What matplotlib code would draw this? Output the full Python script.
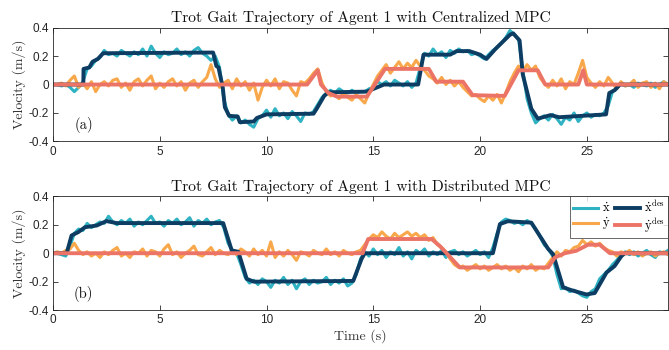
import numpy as np
import matplotlib
matplotlib.use("Agg")
import matplotlib.pyplot as plt

plt.rcParams['mathtext.fontset'] = 'cm'

# ---------------- data ----------------
t_step = 0.2
t_end = 28.8

# Centralized MPC (a)
xa_act = [0.00, 0.00, -0.01, 0.00, -0.02, -0.05, -0.02, 0.02, 0.11, 0.13,
          0.17, 0.19, 0.24, 0.21, 0.22, 0.20, 0.24, 0.22, 0.20, 0.23,
          0.21, 0.25, 0.20, 0.27, 0.22, 0.19, 0.23, 0.21, 0.22, 0.25,
          0.21, 0.23, 0.20, 0.24, 0.26, 0.22, 0.20, 0.17, 0.20, 0.12,
          -0.10, -0.21, -0.25, -0.22, -0.27, -0.25, -0.28, -0.30, -0.24, -0.22,
          -0.18, -0.23, -0.17, -0.22, -0.20, -0.24, -0.19, -0.22, -0.26, -0.20,
          -0.21, -0.19, -0.14, -0.09, -0.06, -0.04, -0.06, -0.03, -0.05, -0.06,
          -0.04, -0.06, -0.05, -0.05, -0.03, -0.02, 0.02, 0.00, 0.02, -0.01,
          0.03, 0.01, -0.01, 0.02, -0.02, 0.01, 0.12, 0.22, 0.20, 0.25,
          0.21, 0.23, 0.19, 0.24, 0.22, 0.25, 0.23, 0.24, 0.21, 0.22,
          0.20, 0.18, 0.21, 0.24, 0.26, 0.29, 0.33, 0.38, 0.35, 0.32,
          0.10, -0.10, -0.20, -0.27, -0.24, -0.22, -0.25, -0.21, -0.24, -0.28,
          -0.23, -0.25, -0.20, -0.26, -0.22, -0.20, -0.23, -0.21, -0.22, -0.20,
          -0.15, -0.05, -0.03, 0.01, -0.01, 0.00, -0.02, 0.01, 0.00, -0.01,
          0.01, -0.02, 0.00, 0.02, 0.00]
ya_act = [0.00, 0.00, 0.01, -0.01, 0.03, 0.06, -0.02, 0.01, -0.03, 0.02,
          -0.05, 0.00, 0.02, -0.01, 0.03, 0.04, -0.02, 0.01, -0.04, 0.02,
          0.04, -0.01, 0.03, 0.06, -0.03, 0.01, -0.02, 0.02, 0.04, -0.01,
          0.02, -0.04, 0.01, 0.03, -0.02, 0.02, 0.05, 0.14, 0.04, -0.02,
          0.01, 0.03, -0.03, 0.04, -0.01, 0.02, -0.04, 0.01, -0.11, -0.02,
          0.03, -0.01, 0.04, -0.03, 0.02, 0.01, -0.04, -0.08, 0.02, 0.01,
          0.04, 0.08, 0.11, 0.01, -0.05, -0.08, -0.07, -0.10, -0.06, -0.09,
          -0.11, -0.07, -0.10, -0.13, -0.06, 0.00, 0.06, 0.10, 0.14, 0.08,
          0.12, 0.16, 0.11, 0.15, 0.12, 0.17, 0.13, 0.10, 0.06, 0.04,
          0.01, 0.05, 0.00, 0.03, -0.01, 0.02, -0.02, -0.05, -0.08, -0.07,
          -0.10, -0.12, -0.08, -0.11, -0.07, -0.13, -0.06, 0.02, 0.08, 0.13,
          0.09, 0.14, 0.10, 0.13, 0.05, 0.01, -0.02, 0.03, -0.01, 0.04,
          -0.03, 0.02, 0.00, 0.08, 0.17, 0.05, 0.01, -0.02, 0.02, -0.01,
          0.05, 0.01, -0.03, 0.02, -0.01, 0.00, 0.03, -0.02, 0.01, 0.02,
          -0.02, 0.01, -0.03, 0.02, 0.00]
xa_des_t = [0, 1.42, 1.43, 1.7, 1.85, 2.1, 2.35, 7.5, 7.65, 7.75, 7.95, 8.05, 8.25,
            8.65, 8.75, 9.4, 9.55, 10.0, 12.2, 12.35, 12.7, 12.9, 14.7, 15.5, 17.1,
            17.35, 18.6, 18.9, 19.5, 20.0, 20.3, 20.75, 21.4, 21.55, 21.85, 22.0,
            22.4, 22.7, 23.3, 23.7, 25.9, 26.05, 26.3, 26.55, 28.8]
xa_des_v = [0, 0, 0.11, 0.12, 0.16, 0.18, 0.22, 0.225, 0.13, 0.12, -0.02, -0.16, -0.22,
            -0.225, -0.265, -0.26, -0.235, -0.21, -0.205, -0.17, -0.08, -0.055, -0.05, 0.0, 0.0,
            0.21, 0.21, 0.235, 0.235, 0.21, 0.18, 0.255, 0.35, 0.36, 0.31, 0.07,
            -0.17, -0.24, -0.215, -0.23, -0.21, -0.06, -0.04, 0.0, 0.0]
ya_des_t = [0, 11.9, 12.4, 12.55, 12.9, 13.3, 14.7, 15.55, 17.6, 17.95, 19.2, 19.65,
            21.15, 21.8, 22.7, 23.05, 24.6, 24.83, 25.0, 28.8]
ya_des_v = [0, 0, 0.10, 0.0, -0.06, -0.085, -0.085, 0.11, 0.11, 0.02, 0.02, -0.075,
            -0.08, 0.10, 0.10, 0.0, 0.0, 0.10, 0.0, 0.0]

# Distributed MPC (b)
xb_act = [0.00, 0.00, -0.01, -0.02, 0.05, 0.14, 0.17, 0.16, 0.21, 0.18,
          0.20, 0.22, 0.21, 0.26, 0.22, 0.20, 0.23, 0.21, 0.24, 0.19,
          0.22, 0.20, 0.23, 0.26, 0.21, 0.22, 0.19, 0.23, 0.21, 0.24,
          0.20, 0.22, 0.25, 0.19, 0.23, 0.21, 0.24, 0.20, 0.22, 0.23,
          0.18, 0.07, 0.02, 0.00, -0.08, -0.17, -0.21, -0.19, -0.22, -0.18,
          -0.20, -0.24, -0.19, -0.21, -0.17, -0.22, -0.19, -0.25, -0.20, -0.18,
          -0.22, -0.19, -0.21, -0.20, -0.17, -0.22, -0.19, -0.21, -0.18, -0.23,
          -0.21, -0.15, -0.04, 0.01, -0.02, 0.03, -0.01, 0.02, -0.03, 0.01,
          -0.01, 0.04, -0.02, 0.01, -0.04, 0.02, 0.00, 0.03, -0.02, 0.01,
          -0.01, 0.02, -0.03, 0.01, 0.02, -0.01, 0.01, -0.02, 0.00, 0.02,
          -0.01, 0.01, -0.03, 0.04, 0.14, 0.22, 0.24, 0.23, 0.21, 0.22,
          0.20, 0.23, 0.21, 0.17, 0.12, 0.06, 0.03, -0.02, -0.15, -0.25,
          -0.24, -0.27, -0.26, -0.28, -0.30, -0.31, -0.27, -0.25, -0.18, -0.15,
          -0.12, -0.08, -0.05, -0.01, 0.01, -0.01, 0.01, -0.02, 0.00, 0.02,
          -0.01, -0.03, 0.01, 0.00, 0.02]
yb_act = [0.00, 0.01, 0.00, 0.02, 0.03, 0.07, 0.02, -0.01, 0.01, -0.02,
          0.00, -0.03, 0.01, -0.01, 0.02, 0.04, -0.02, 0.00, -0.03, 0.01,
          0.00, 0.03, -0.02, 0.02, 0.01, -0.02, 0.03, 0.06, -0.01, 0.01,
          -0.03, 0.00, 0.02, 0.05, -0.01, -0.02, 0.01, 0.04, -0.01, 0.02,
          0.00, -0.01, 0.02, -0.01, 0.03, 0.01, -0.02, 0.03, -0.01, 0.02,
          -0.02, 0.08, -0.03, 0.01, -0.02, 0.02, -0.01, -0.05, 0.01, 0.00,
          -0.02, 0.02, 0.00, -0.01, 0.03, -0.01, 0.01, -0.02, 0.02, 0.00,
          -0.01, 0.01, 0.02, 0.06, 0.10, 0.13, 0.11, 0.15, 0.12, 0.10,
          0.14, 0.11, 0.13, 0.15, 0.12, 0.14, 0.11, 0.13, 0.09, 0.11,
          0.06, 0.04, 0.01, -0.04, -0.08, -0.10, -0.09, -0.12, -0.10, -0.08,
          -0.11, -0.09, -0.12, -0.10, -0.08, -0.11, -0.09, -0.12, -0.10, -0.13,
          -0.09, -0.11, -0.08, -0.12, -0.10, -0.11, -0.07, -0.03, 0.01, -0.02,
          0.02, 0.01, 0.04, 0.05, 0.09, 0.06, 0.08, 0.05, 0.07, 0.04,
          0.02, 0.01, -0.02, 0.01, 0.00, 0.02, -0.01, 0.01, -0.02, 0.00,
          0.01, -0.02, 0.00, 0.01, -0.01]
xb_des_t = [0, 0.64, 0.87, 1.18, 1.5, 2.05, 2.5, 2.98, 7.97, 8.37, 8.68, 9.07, 9.4,
            14.06, 14.45, 14.6, 20.6, 20.93, 21.3, 22.4, 23.19, 23.42, 23.89, 24.28,
            24.98, 25.37, 25.92, 26.3, 26.62, 26.78, 28.8]
xb_des_v = [0, 0, 0.125, 0.148, 0.183, 0.195, 0.226, 0.212, 0.212, 0.02, 0.01, -0.18, -0.2,
            -0.195, -0.04, 0, 0, 0.205, 0.225, 0.215, 0.03, -0.007, -0.24, -0.26,
            -0.29, -0.28, -0.136, -0.09, -0.02, 0, 0]
yb_des_t = [0, 14.5, 14.76, 17.73, 18.12, 19.05, 23.19, 23.5, 23.97, 24.5, 25.06,
            25.6, 26.08, 28.8]
yb_des_v = [0, 0, 0.1, 0.1, 0.05, -0.1, -0.1, -0.03, 0, 0.017, 0.06, 0.06, 0, 0]

titles = ['Trot Gait Trajectory of Agent 1 with Centralized MPC',
          'Trot Gait Trajectory of Agent 1 with Distributed MPC']
panel_tags = ['(a)', '(b)']
xticks = [0, 5, 10, 15, 20, 25]
yticks = [-0.4, -0.2, 0, 0.2, 0.4]
ytick_labels = ['-0.4', '-0.2', '0', '0.2', '0.4']
legend_labels = [r'$\dot{\mathrm{x}}$', r'$\dot{\mathrm{y}}$',
                 r'$\dot{\mathrm{x}}^{\mathrm{des}}$', r'$\dot{\mathrm{y}}^{\mathrm{des}}$']

# ---------------- style ----------------
c_x = '#2fb3c3'
c_xd = '#0d3d62'
c_y = '#f8a84a'
c_yd = '#ec7466'
serif = 'cmr10'
tick_font = 'Liberation Sans'

fig = plt.figure(figsize=(6.69, 3.5), dpi=100)
ax_a = fig.add_axes([0.0792, 0.596, 0.9193, 0.325])
ax_b = fig.add_axes([0.0792, 0.114, 0.9193, 0.325])

series = [
    (xa_act, ya_act, xa_des_t, xa_des_v, ya_des_t, ya_des_v),
    (xb_act, yb_act, xb_des_t, xb_des_v, yb_des_t, yb_des_v),
]

for k, (ax, s) in enumerate(zip([ax_a, ax_b], series)):
    xact, yact, xdt, xdv, ydt, ydv = s
    t = np.arange(len(xact)) * t_step
    l1, = ax.plot(t, xact, color=c_x, lw=2.2, solid_joinstyle='round')
    l2, = ax.plot(t, yact, color=c_y, lw=2.2, solid_joinstyle='round')
    l3, = ax.plot(xdt, xdv, color=c_xd, lw=2.8, solid_joinstyle='round')
    l4, = ax.plot(ydt, ydv, color=c_yd, lw=2.8, solid_joinstyle='round')
    ax.set_xlim(0, t_end)
    ax.set_ylim(-0.4, 0.4)
    ax.set_xticks(xticks)
    ax.set_xticklabels([str(v) for v in xticks], fontfamily=tick_font, fontsize=8.5, color='#262626')
    ax.set_yticks(yticks)
    ax.set_yticklabels(ytick_labels, fontfamily=tick_font, fontsize=8.5, color='#262626')
    ax.tick_params(direction='in', length=3.5, width=0.6, colors='#262626',
                   top=True, right=True, pad=3)
    for sp in ax.spines.values():
        sp.set_linewidth(0.6)
        sp.set_color('#262626')
    ax.set_title(titles[k], fontfamily=serif, fontsize=11.2, pad=4, color='#111111')
    ax.set_ylabel('Velocity (m/s)', fontfamily=serif, fontsize=10, labelpad=2, color='#333333')
    ax.text(0.05, 0.14, panel_tags[k], transform=ax.transAxes, fontfamily=serif,
            fontsize=10.5, ha='center', va='center', color='#111111')
    if k == 1:
        ax.set_xlabel('Time (s)', fontfamily=serif, fontsize=10, labelpad=2, color='#333333')
        leg = ax.legend([l1, l2, l3, l4], legend_labels, ncol=2, loc='upper right',
                        fontsize=9, frameon=True, fancybox=False, borderaxespad=0.0,
                        handlelength=2.0, handletextpad=0.3, columnspacing=0.4,
                        labelspacing=0.05, borderpad=0.25)
        leg.get_frame().set_edgecolor('#262626')
        leg.get_frame().set_linewidth(0.6)

fig.savefig('out.png', dpi=100)
